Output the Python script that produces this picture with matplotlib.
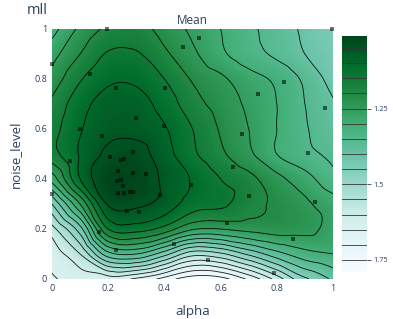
import numpy as np
import matplotlib
matplotlib.use("Agg")
import matplotlib.pyplot as plt
import matplotlib.tri as mtri
from matplotlib.colors import Normalize
from matplotlib.cm import ScalarMappable

# ---------------- data ----------------
alpha_grid = [0.0, 0.1, 0.2, 0.3, 0.4, 0.5, 0.6, 0.7, 0.8, 0.9, 1.0]
noise_grid = [0.0, 0.1, 0.2, 0.3, 0.4, 0.5, 0.6, 0.7, 0.8, 0.9, 1.0]

# mean mll, one row per noise_level (bottom -> top), columns follow alpha_grid
mean_y00 = [1.66, 1.63, 1.63, 1.66, 1.72, 1.78, 1.77, 1.69, 1.58, 1.46, 1.39]
mean_y01 = [1.63, 1.55, 1.37, 1.35, 1.43, 1.53, 1.51, 1.44, 1.37, 1.32, 1.30]
mean_y02 = [1.57, 1.42, 1.15, 1.13, 1.17, 1.245, 1.25, 1.235, 1.225, 1.235, 1.27]
mean_y03 = [1.45, 1.25, 1.045, 1.04, 1.07, 1.125, 1.14, 1.18, 1.21, 1.24, 1.28]
mean_y04 = [1.28, 1.10, 1.015, 1.015, 1.06, 1.105, 1.15, 1.185, 1.235, 1.28, 1.335]
mean_y05 = [1.17, 1.095, 1.04, 1.03, 1.08, 1.14, 1.19, 1.24, 1.30, 1.335, 1.36]
mean_y06 = [1.17, 1.105, 1.065, 1.065, 1.095, 1.15, 1.205, 1.25, 1.30, 1.345, 1.38]
mean_y07 = [1.19, 1.12, 1.08, 1.08, 1.12, 1.18, 1.22, 1.26, 1.30, 1.35, 1.395]
mean_y08 = [1.23, 1.155, 1.11, 1.11, 1.15, 1.205, 1.24, 1.28, 1.31, 1.36, 1.42]
mean_y09 = [1.27, 1.20, 1.145, 1.145, 1.19, 1.24, 1.29, 1.33, 1.36, 1.40, 1.43]
mean_y10 = [1.32, 1.24, 1.19, 1.18, 1.22, 1.26, 1.30, 1.34, 1.37, 1.41, 1.44]

# observed trial points
pts_alpha = [0.195, 0.465, 0.0, 0.137, 0.228, 0.401, 0.299, 0.397, 0.098, 0.179,
             0.287, 0.064, 0.206, 0.244, 0.257, 0.236, 0.289, 0.333, 0.233, 0.246,
             0.251, 0.236, 0.255, 0.277, 0.289, 0.384, 0.266, 0.311, 0.167, 0.229,
             0.435, 0.0, 0.496, 0.523, 0.995, 0.826, 0.734, 0.97, 0.677, 0.911,
             0.644, 0.702, 0.936, 0.622, 0.858, 0.556, 0.789]
pts_noise = [1.0, 0.927, 0.859, 0.82, 0.763, 0.764, 0.645, 0.612, 0.601, 0.572,
             0.509, 0.473, 0.489, 0.476, 0.481, 0.434, 0.425, 0.42, 0.394, 0.396,
             0.371, 0.345, 0.346, 0.347, 0.347, 0.338, 0.272, 0.267, 0.188, 0.117,
             0.139, 0.339, 0.375, 0.963, 0.999, 0.787, 0.74, 0.684, 0.579, 0.504,
             0.448, 0.331, 0.309, 0.225, 0.16, 0.077, 0.025]

line_levels = [1.05, 1.10, 1.15, 1.20, 1.25, 1.30, 1.35, 1.40, 1.45, 1.50,
               1.55, 1.60, 1.65, 1.70, 1.75]
cbar_ticks = [1.25, 1.5, 1.75]
zmin, zmax = 1.01, 1.79

# ---------------- drawing ----------------
plt.rcParams["font.family"] = ["Open Sans", "DejaVu Sans"]
txt = "#2a3f5f"
cmap = plt.get_cmap("BuGn_r")
norm = Normalize(vmin=zmin, vmax=zmax)

Z = np.array([mean_y00, mean_y01, mean_y02, mean_y03, mean_y04, mean_y05,
              mean_y06, mean_y07, mean_y08, mean_y09, mean_y10])
X, Y = np.meshgrid(alpha_grid, noise_grid)
tri = mtri.Triangulation(X.ravel(), Y.ravel())
interp = mtri.CubicTriInterpolator(tri, Z.ravel(), kind="geom")
refiner = mtri.UniformTriRefiner(tri)
tri_f, z_f = refiner.refine_field(Z.ravel(), triinterpolator=interp, subdiv=4)

fig = plt.figure(figsize=(3.93, 3.19), dpi=100)
ax = fig.add_axes([52 / 393, 1 - 279 / 319, 281 / 393, 250 / 319])

fill_levels = np.linspace(zmin, zmax, 157)
ax.tricontourf(tri_f, z_f, levels=fill_levels, cmap=cmap, norm=norm,
               extend="both")
ax.tricontour(tri_f, z_f, levels=line_levels, colors="black",
              linewidths=0.6, alpha=0.9)
ax.scatter(pts_alpha, pts_noise, marker="s", s=11, c="black", alpha=0.55,
           linewidths=0, clip_on=False, zorder=5)

ax.set_xlim(0, 1)
ax.set_ylim(0, 1)
for sp in ax.spines.values():
    sp.set_visible(False)
ax.set_xticks([0, 0.2, 0.4, 0.6, 0.8, 1.0])
ax.set_xticklabels(["0", "0.2", "0.4", "0.6", "0.8", "1"])
ax.set_yticks([0, 0.2, 0.4, 0.6, 0.8, 1.0])
ax.set_yticklabels(["0", "0.2", "0.4", "0.6", "0.8", "1"])
ax.tick_params(length=0, labelsize=6.5, colors=txt, pad=3.5)
ax.set_xlabel("alpha", fontsize=9.5, color=txt, labelpad=9)
ax.set_ylabel("noise_level", fontsize=9.5, color=txt, labelpad=9)

# colorbar (dark / low values on top)
cax = fig.add_axes([342 / 393, 1 - 272 / 319, 25 / 393, 236 / 319])
sm = ScalarMappable(norm=norm, cmap=cmap)
cb = fig.colorbar(sm, cax=cax)
cb.ax.set_ylim(zmax, zmin)
for lv in line_levels:
    cb.ax.axhline(lv, color="#333333", linewidth=0.7, alpha=0.85)
cb.set_ticks(cbar_ticks)
cb.set_ticklabels(["1.25", "1.5", "1.75"])
cb.ax.tick_params(labelsize=5.3, length=3, width=0.6, colors=txt, pad=1.5)
cb.outline.set_visible(False)

fig.text(27 / 393, 1 - 10 / 319, "mll", fontsize=10.5, color=txt,
         ha="left", va="center")
fig.text(192.5 / 393, 1 - 20 / 319, "Mean", fontsize=8.5, color=txt,
         ha="center", va="center")

fig.savefig("out.png", dpi=100)
